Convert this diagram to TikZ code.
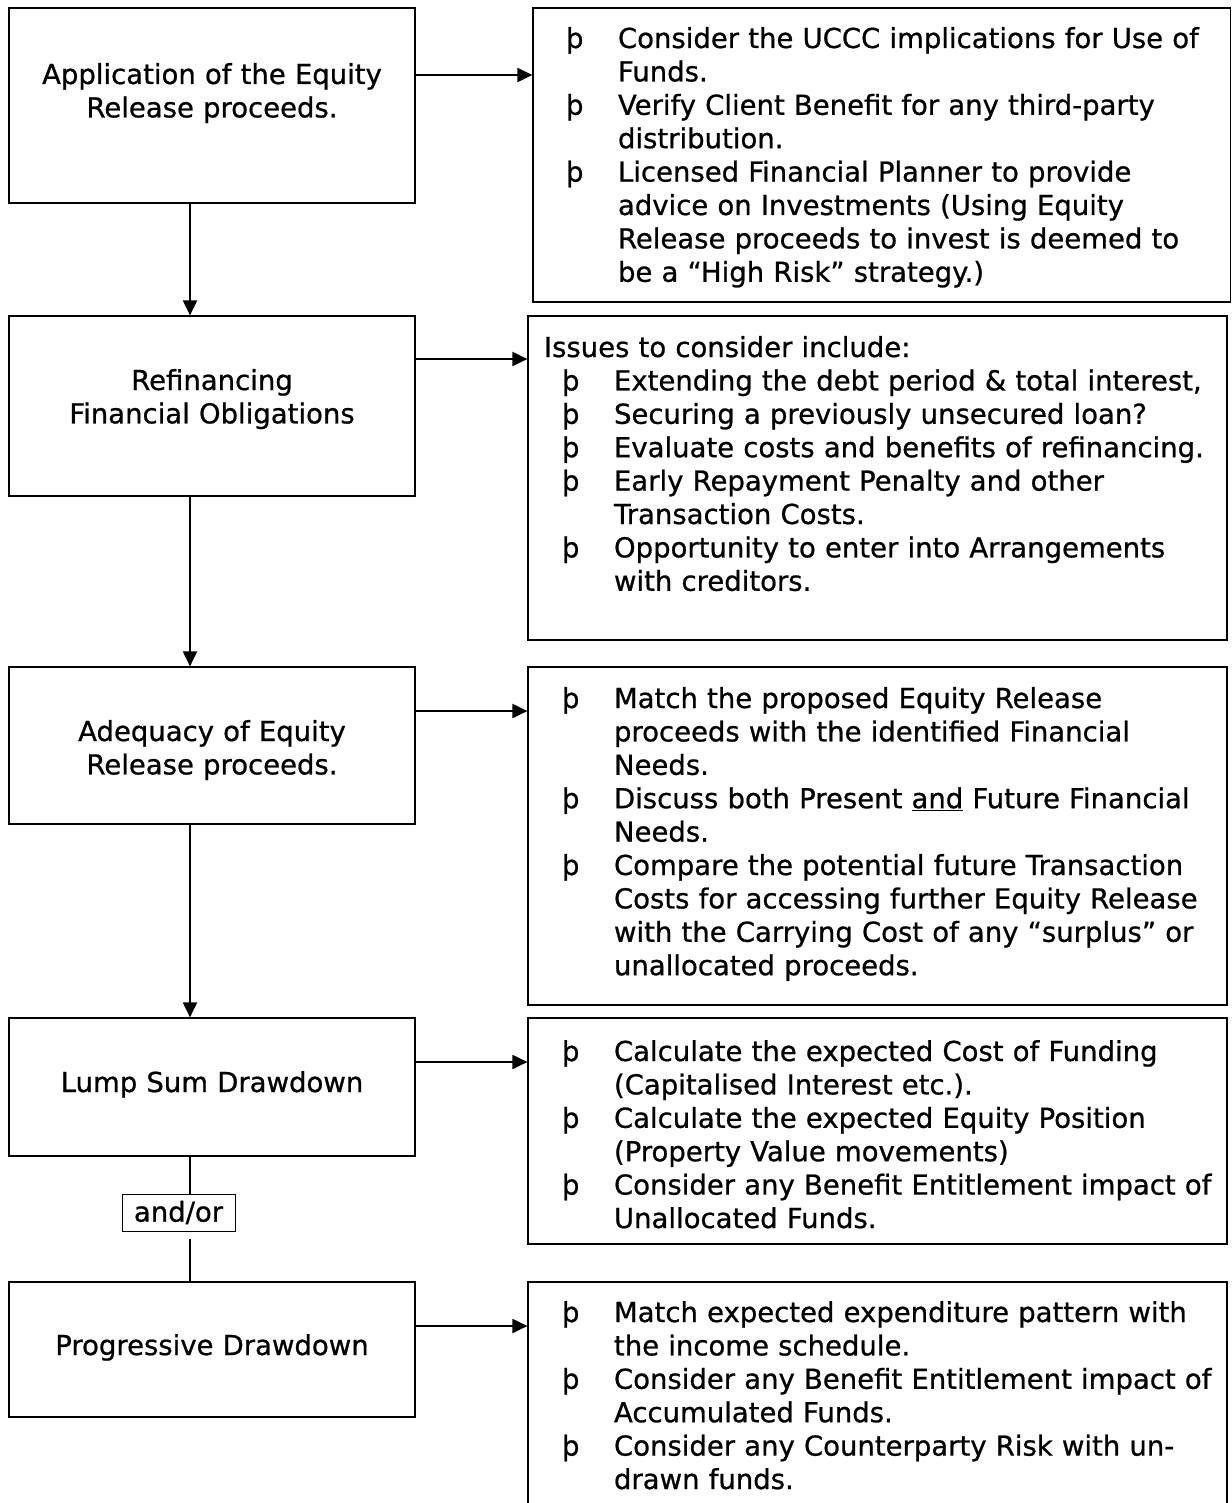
\documentclass[tikz,border=0pt]{standalone}
\usepackage{fontspec}
\setmainfont[FakeBold=0.8]{DejaVu Sans}
\usetikzlibrary{arrows.meta}

\newcommand{\bul}{\makebox[52pt][l]{þ}}
\newcommand{\nob}{\hspace*{52pt}}

\begin{document}
\begin{tikzpicture}[x=1pt,y=-1pt,->,>={Triangle[length=15pt,width=14pt]},line width=2pt,
  every node/.style={font=\fontsize{27.5pt}{33.4pt}\selectfont},
  box/.style={draw,line width=1.2pt,inner sep=0pt},
  head/.style={anchor=base,inner sep=0pt,text width=406pt,align=center},
  list/.style={anchor=base west,inner sep=0pt,text width=660pt,align=left}]

\useasboundingbox (0,0) rectangle (1231,1503);

% left column
\node [box,minimum width=406pt,minimum height=195pt] (l1) at (212,105.5) {};
\node [box,minimum width=406pt,minimum height=180pt] (l2) at (212,406) {};
\node [box,minimum width=406pt,minimum height=157pt] (l3) at (212,745.5) {};
\node [box,minimum width=406pt,minimum height=138pt] (l4) at (212,1087) {};
\node [box,minimum width=406pt,minimum height=135pt] (l5) at (212,1349.5) {};

\node [head] (t1) at (212,84) {Application of the Equity\\Release proceeds.};
\node [head] (t2) at (212,390) {Refinancing\\Financial Obligations};
\node [head] (t3) at (212,741) {Adequacy of Equity\\Release proceeds.};
\node [head] (t4) at (212,1092) {Lump Sum Drawdown};
\node [head] (t5) at (212,1355) {Progressive Drawdown};

\node [draw,line width=1pt,inner sep=0pt,minimum width=113pt,minimum height=37pt] (ao) at (178.5,1212.5) {and/or};

% right column
\node [box,minimum width=697.4pt,minimum height=294pt] (r1) at (881.7,155) {};
\node [box,minimum width=699pt,minimum height=324pt] (r2) at (877.5,478) {};
\node [box,minimum width=699pt,minimum height=338pt] (r3) at (877.5,836) {};
\node [box,minimum width=699pt,minimum height=226pt] (r4) at (877.5,1131) {};
\node [box,minimum width=699pt,minimum height=258pt] (r5) at (877.5,1411) {};

\node [list] (n1) at (565,48) {\bul Consider the UCCC implications for Use of\\
  \nob Funds.\\
  \bul Verify Client Benefit for any third-party\\
  \nob distribution.\\
  \bul Licensed Financial Planner to provide\\
  \nob advice on Investments (Using Equity\\
  \nob Release proceeds to invest is deemed to\\
  \nob be a “High Risk” strategy.)};

\node [list] (n2) at (543,357) {Issues to consider include:\\
  \hspace*{18pt}\bul Extending the debt period \& total interest,\\
  \hspace*{18pt}\bul Securing a previously unsecured loan?\\
  \hspace*{18pt}\bul Evaluate costs and benefits of refinancing.\\
  \hspace*{18pt}\bul Early Repayment Penalty and other\\
  \hspace*{18pt}\nob Transaction Costs.\\
  \hspace*{18pt}\bul Opportunity to enter into Arrangements\\
  \hspace*{18pt}\nob with creditors.};

\node [list] (n3) at (561,708) {\bul Match the proposed Equity Release\\
  \nob proceeds with the identified Financial\\
  \nob Needs.\\
  \bul Discuss both Present \underline{and} Future Financial\\
  \nob Needs.\\
  \bul Compare the potential future Transaction\\
  \nob Costs for accessing further Equity Release\\
  \nob with the Carrying Cost of any “surplus” or\\
  \nob unallocated proceeds.};

\node [list] (n4) at (561,1061) {\bul Calculate the expected Cost of Funding\\
  \nob (Capitalised Interest etc.).\\
  \bul Calculate the expected Equity Position\\
  \nob (Property Value movements)\\
  \bul Consider any Benefit Entitlement impact of\\
  \nob Unallocated Funds.};

\node [list] (n5) at (561,1322) {\bul Match expected expenditure pattern with\\
  \nob the income schedule.\\
  \bul Consider any Benefit Entitlement impact of\\
  \nob Accumulated Funds.\\
  \bul Consider any Counterparty Risk with un-\\
  \nob drawn funds.};

% connectors
\coordinate (sp) at (190,0);
\coordinate (h1) at (0,75);
\coordinate (h2) at (0,359);
\coordinate (h3) at (0,711);
\coordinate (h4) at (0,1062);
\coordinate (h5) at (0,1326);

\draw (l1.east |- h1) -- (r1.west |- h1);
\draw (l2.east |- h2) -- (r2.west |- h2);
\draw (l3.east |- h3) -- (r3.west |- h3);
\draw (l4.east |- h4) -- (r4.west |- h4);
\draw (l5.east |- h5) -- (r5.west |- h5);

\draw (l1.south -| sp) -- (l2.north -| sp);
\draw (l2.south -| sp) -- (l3.north -| sp);
\draw (l3.south -| sp) -- (l4.north -| sp);

\path [draw,-]
    (l4.south -| sp) -- (ao.north -| sp)
    ([yshift=-7pt]ao.south -| sp) -- (l5.north -| sp)
;

\end{tikzpicture}
\end{document}
